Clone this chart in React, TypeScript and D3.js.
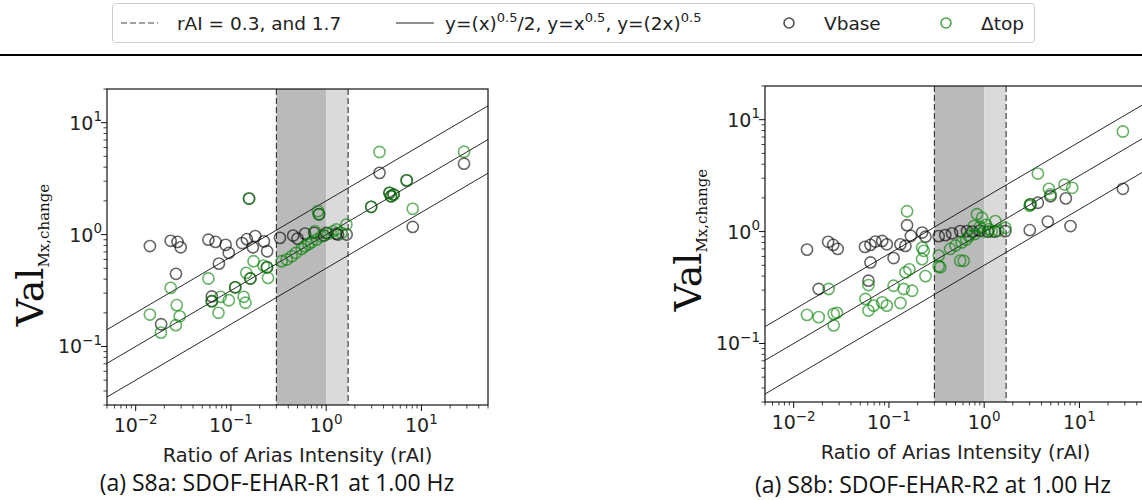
import React from 'react';
import * as d3 from 'd3';

// ---------- data ----------
const xDomain = [0.005, 50];
const yDomain = [0.03, 20];
const xTickValues = [0.01, 0.1, 1, 10];
const xTickExps = ['\u22122', '\u22121', '0', '1'];
const yTickValues = [0.1, 1, 10];
const yTickExps = ['\u22121', '0', '1'];
const bandDark = [0.3, 1.0];
const bandLight = [1.0, 1.7];
const rAIBounds = [0.3, 1.7];
const refFactors = [0.5, 1, 2]; // reference lines y = k * x^0.5

const s8aVbase: [number, number][] = [
  [0.0141, 0.79], [0.0233, 0.88], [0.0275, 0.86], [0.0297, 0.77], [0.0265, 0.446], [0.0185, 0.158],
  [0.058, 0.9], [0.069, 0.86], [0.088, 0.81], [0.095, 0.686], [0.0748, 0.55], [0.131, 0.84],
  [0.147, 0.91], [0.18, 0.97], [0.17, 0.77], [0.222, 0.87], [0.24, 0.71], [0.063, 0.28],
  [0.327, 0.935], [0.45, 0.98], [0.5, 0.92], [0.6, 1.02], [0.75, 1.035], [0.95, 0.98], [1.0, 1.035],
  [1.27, 1.02], [1.33, 1.0], [1.64, 1.0], [0.84, 1.52],
  [0.155, 2.1], [0.063, 0.254], [0.111, 0.338], [0.16, 0.405], [0.239, 0.51],
  [2.97, 1.77], [4.62, 2.36], [4.8, 2.2], [5.1, 2.28], [7.0, 3.05],
  [3.63, 3.56], [8.1, 1.17], [28, 4.3],
];
const s8aDtop: [number, number][] = [
  [0.0233, 0.334], [0.0141, 0.193], [0.027, 0.234], [0.029, 0.186], [0.0264, 0.155], [0.0184, 0.133],
  [0.058, 0.405], [0.074, 0.2], [0.078, 0.278], [0.095, 0.259], [0.136, 0.278], [0.142, 0.246],
  [0.173, 0.578], [0.145, 0.455], [0.245, 0.41], [0.22, 0.528],
  [0.155, 2.1], [0.063, 0.254], [0.111, 0.338], [0.16, 0.405], [0.239, 0.51],
  [2.97, 1.77], [4.62, 2.36], [4.8, 2.2], [5.1, 2.28], [7.0, 3.05],
  [0.341, 0.578], [0.385, 0.598], [0.434, 0.64], [0.481, 0.687], [0.552, 0.745], [0.597, 0.787],
  [0.65, 0.82], [0.7, 0.853], [0.76, 1.07], [0.79, 0.9], [0.89, 0.966], [1.05, 1.02], [1.18, 1.07],
  [1.28, 1.11], [1.45, 1.035], [1.63, 1.23], [0.82, 1.62], [0.84, 1.52],
  [3.63, 5.47], [8.1, 1.7], [28, 5.5],
];
const s8bVbase: [number, number][] = [
  [0.0138, 0.69], [0.023, 0.81], [0.026, 0.76], [0.029, 0.7], [0.0183, 0.307], [0.056, 0.73],
  [0.064, 0.76], [0.072, 0.815], [0.085, 0.825], [0.095, 0.77], [0.064, 0.53], [0.061, 0.364],
  [0.112, 0.58], [0.132, 0.77], [0.149, 0.745], [0.155, 1.14], [0.17, 0.915], [0.223, 0.98], [0.242, 0.9],
  [0.333, 0.91], [0.39, 0.93], [0.46, 0.965], [0.56, 1.01], [0.66, 1.01], [0.75, 1.0], [0.9, 1.02],
  [1.1, 1.0], [1.3, 1.0], [1.67, 1.01],
  [3.01, 1.03], [4.66, 1.23], [8.05, 1.12], [3.66, 1.81], [4.97, 2.07], [7.2, 1.98], [28.6, 2.41], [3.06, 1.75],
];
const s8bDtop: [number, number][] = [
  [0.155, 1.52], [0.0233, 0.307], [0.0138, 0.18], [0.0183, 0.172], [0.0263, 0.184], [0.0285, 0.188],
  [0.0263, 0.145], [0.0567, 0.25], [0.061, 0.197], [0.069, 0.218], [0.085, 0.233], [0.095, 0.218],
  [0.061, 0.333], [0.112, 0.328], [0.132, 0.23], [0.143, 0.307], [0.175, 0.296], [0.149, 0.432],
  [0.164, 0.46], [0.242, 0.4], [0.223, 0.567], [0.232, 0.673], [0.223, 0.72],
  [0.333, 0.49], [0.333, 0.61], [0.346, 0.48], [0.44, 0.7], [0.56, 0.55], [0.58, 0.8], [0.69, 0.91],
  [0.84, 1.43], [0.78, 1.12], [0.95, 1.33], [1.12, 1.05], [1.31, 1.24], [1.67, 1.08], [0.61, 0.548],
  [0.5, 0.75], [0.65, 0.85], [0.8, 0.95], [1.0, 1.0], [1.2, 1.0], [1.4, 1.02], [0.9, 1.1], [1.05, 1.15],
  [28.6, 7.84], [3.66, 3.3], [4.78, 2.41], [4.97, 2.15], [6.98, 2.63], [8.4, 2.46], [3.06, 1.75], [3.0, 1.7],
];

const legendItems = ['rAI = 0.3, and 1.7', 'Vbase', '\u0394top'];
const xLabel = 'Ratio of Arias Intensity (rAI)';
const captions = ['(a) S8a: SDOF-EHAR-R1 at 1.00 Hz', '(a) S8b: SDOF-EHAR-R2 at 1.00 Hz'];

// ---------- layout ----------
const W = 381;
const H = 316;
const SANS = 'DejaVu Sans';
const SERIF = 'DejaVu Serif';
const GRAY_STROKE = 'black';
const GREEN_STROKE = 'green';
const PT_OP = 0.6;

function minorTicks(domain: number[]) {
  const out: number[] = [];
  for (let d = -4; d <= 2; d++) {
    for (let m = 2; m <= 9; m++) {
      const v = m * Math.pow(10, d);
      if (v >= domain[0] && v <= domain[1]) out.push(v);
    }
  }
  return out;
}

function Pow10({ x, y, exp, anchor }: { x: number; y: number; exp: string; anchor: string }) {
  return (
    <text x={x} y={y} fontFamily={SANS} fontSize={19} textAnchor={anchor} fill="#222">
      10<tspan fontSize={13.5} dy={-8.5}>{exp}</tspan>
    </text>
  );
}

function Panel({ left, top, vbase, dtop, caption, captionX, captionY, ylabY }: any) {
  const x = d3.scaleLog().domain(xDomain).range([0, W]);
  const y = d3.scaleLog().domain(yDomain).range([H, 0]);
  const xMin = minorTicks(xDomain);
  const yMin = minorTicks(yDomain);
  return (
    <g>
      <g transform={`translate(${left},${top})`}>
        <rect x={x(bandDark[0])} y={0} width={x(bandDark[1]) - x(bandDark[0])} height={H} fill="#bababa" />
        <rect x={x(bandLight[0])} y={0} width={x(bandLight[1]) - x(bandLight[0])} height={H} fill="#dadada" />
        {rAIBounds.map((b, i) => (
          <line key={i} x1={x(b)} x2={x(b)} y1={0} y2={H} stroke="#222" strokeWidth={1} strokeDasharray="6,3" />
        ))}
        {refFactors.map((k, i) => (
          <line key={i} x1={x(xDomain[0])} x2={x(xDomain[1])}
            y1={y(k * Math.sqrt(xDomain[0]))} y2={y(k * Math.sqrt(xDomain[1]))}
            stroke="#111" strokeWidth={0.9} />
        ))}
        {vbase.map((d: number[], i: number) => (
          <circle key={'v' + i} cx={x(d[0])} cy={y(d[1])} r={5.6} fill="none" stroke={GRAY_STROKE} strokeOpacity={PT_OP} strokeWidth={1.6} />
        ))}
        {dtop.map((d: number[], i: number) => (
          <circle key={'g' + i} cx={x(d[0])} cy={y(d[1])} r={5.6} fill="none" stroke={GREEN_STROKE} strokeOpacity={PT_OP} strokeWidth={1.6} />
        ))}
        <rect x={0} y={0} width={W} height={H} fill="none" stroke="#111" strokeWidth={1.2} />
        {xTickValues.map((v, i) => (
          <g key={i}>
            <line x1={x(v)} x2={x(v)} y1={H} y2={H + 6} stroke="#111" strokeWidth={1} />
            <Pow10 x={x(v)} y={H + 27} exp={xTickExps[i]} anchor="middle" />
          </g>
        ))}
        {xMin.map((v, i) => (
          <line key={i} x1={x(v)} x2={x(v)} y1={H} y2={H + 3.5} stroke="#111" strokeWidth={0.8} />
        ))}
        {yTickValues.map((v, i) => (
          <g key={i}>
            <line x1={-6} x2={0} y1={y(v)} y2={y(v)} stroke="#111" strokeWidth={1} />
            <Pow10 x={-5} y={y(v) + 7} exp={yTickExps[i]} anchor="end" />
          </g>
        ))}
        {yMin.map((v, i) => (
          <line key={i} x1={-3.5} x2={0} y1={y(v)} y2={y(v)} stroke="#111" strokeWidth={0.8} />
        ))}
        <text x={W / 2} y={H + 57} fontFamily={SANS} fontSize={19.5} textAnchor="middle" fill="#222">{xLabel}</text>
      </g>
      <text transform={`translate(${left - 64},${ylabY}) rotate(-90)`} fontFamily={SERIF} fill="#111" textAnchor="middle">
        <tspan fontSize={38}>Val</tspan><tspan fontSize={15} dy={6}>Mx,change</tspan>
      </text>
      <text x={captionX} y={captionY} fontFamily="Open Sans" fontSize={23} textAnchor="middle" fill="#111">{caption}</text>
    </g>
  );
}

function Legend() {
  const cy = 23;
  const fs = 18.5;
  return (
    <g>
      <rect x={112.5} y={3.5} width={922} height={39} rx={3} fill="white" stroke="#cccccc" strokeWidth={1} />
      <line x1={121} x2={158} y1={cy} y2={cy} stroke="#444" strokeWidth={1.2} strokeDasharray="6,3" />
      <text x={177} y={cy + 6.5} fontFamily={SANS} fontSize={fs} fill="#222">{legendItems[0]}</text>
      <line x1={396} x2={434} y1={cy} y2={cy} stroke="#222" strokeWidth={1} />
      <text x={445} y={cy + 6.5} fontFamily={SANS} fontSize={fs} fill="#222">
        y=(x)<tspan fontSize={13} dy={-8}>0.5</tspan><tspan dy={8}>/2, y=x</tspan><tspan fontSize={13} dy={-8}>0.5</tspan><tspan dy={8}>, y=(2x)</tspan><tspan fontSize={13} dy={-8}>0.5</tspan>
      </text>
      <circle cx={789} cy={cy} r={5} fill="none" stroke={GRAY_STROKE} strokeOpacity={0.7} strokeWidth={1.6} />
      <text x={824} y={cy + 6.5} fontFamily={SANS} fontSize={fs} fill="#222">{legendItems[1]}</text>
      <circle cx={946} cy={cy} r={5} fill="none" stroke={GREEN_STROKE} strokeOpacity={0.7} strokeWidth={1.6} />
      <text x={981} y={cy + 6.5} fontFamily={SANS} fontSize={fs} fill="#222">{legendItems[2]}</text>
      <line x1={0} x2={1142} y1={55} y2={55} stroke="black" strokeWidth={2} />
    </g>
  );
}

export default function App() {
  return (
    <svg width={1142} height={500} style={{ position: 'absolute', left: 0, top: 0, background: 'white' }}>
      <rect width={1142} height={500} fill="white" />
      <Legend />
      <Panel left={107} top={89} vbase={s8aVbase} dtop={s8aDtop} caption={captions[0]} captionX={277} captionY={491} ylabY={255} />
      <Panel left={765} top={86} vbase={s8bVbase} dtop={s8bDtop} caption={captions[1]} captionX={933} captionY={493} ylabY={240} />
    </svg>
  );
}
